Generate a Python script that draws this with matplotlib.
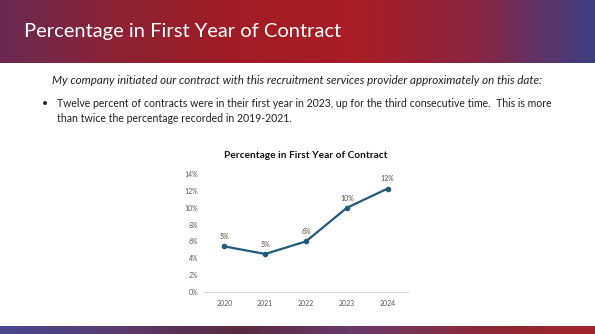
import numpy as np
import matplotlib
matplotlib.use("Agg")
import matplotlib.pyplot as plt
from matplotlib.colors import LinearSegmentedColormap

years = ["2020", "2021", "2022", "2023", "2024"]
pct = [5.4, 4.5, 6.0, 10.0, 12.3]
point_labels = ["5%", "5%", "6%", "10%", "12%"]
y_ticks = [0, 2, 4, 6, 8, 10, 12, 14]

W, H = 595, 334
plt.rcParams['font.family'] = ['Lato', 'DejaVu Sans']

fig = plt.figure(figsize=(W / 100, H / 100), dpi=100)
fig.patch.set_facecolor("white")

# header band
head = fig.add_axes([0, 1 - 63 / H, 1, 63 / H])
head_cmap = LinearSegmentedColormap.from_list(
    "head", ["#6a2a52", "#8e2234", "#a11c24", "#a81d26", "#8a2440", "#3d3f82"])
grad = np.linspace(0, 1, 300).reshape(1, -1)
head.imshow(grad, aspect="auto", cmap=head_cmap, extent=[0, 1, 0, 1])
head.set_axis_off()
head.text(24 / W, 0.5, "Percentage in First Year of Contract", color="white",
          fontsize=14.5, va="center", ha="left", transform=head.transAxes)

# bottom band
foot = fig.add_axes([0, 0, 1, 8 / H])
foot_cmap = LinearSegmentedColormap.from_list(
    "foot", ["#4a4a92", "#5a3a6e", "#5a2a40", "#6a3a6a", "#8a2a3a", "#a3222a"])
foot.imshow(grad, aspect="auto", cmap=foot_cmap, extent=[0, 1, 0, 1])
foot.set_axis_off()

# texts
fig.text(52 / W, 1 - 80 / H,
         "My company initiated our contract with this recruitment services provider approximately on this date:",
         fontsize=8.4, style="italic", color="#222222", va="center")
fig.text(42 / W, 1 - 103 / H, "\u2022", fontsize=7.5, color="#222222", va="center")
fig.text(57 / W, 1 - 103 / H,
         "Twelve percent of contracts were in their first year in 2023, up for the third consecutive time.  This is more",
         fontsize=7.6, color="#222222", va="center")
fig.text(57 / W, 1 - 118 / H, "than twice the percentage recorded in 2019-2021.",
         fontsize=7.6, color="#222222", va="center")

# chart
ax = fig.add_axes([204 / W, 42.3 / H, 204 / W, 117.4 / H])
x = np.arange(len(years))
ax.plot(x, pct, color="#1f5a7a", lw=1.6, marker="o", ms=3)
for xi, yi, lab in zip(x, pct, point_labels):
    ax.annotate(lab, (xi, yi), xytext=(0, 4.5), textcoords="offset points",
                ha="center", va="bottom", fontsize=5, color="#5a4a3a")
ax.set_xlim(-0.5, len(years) - 0.5)
ax.set_ylim(0, 14)
ax.set_xticks(x)
ax.set_xticklabels(years)
ax.set_yticks(y_ticks)
ax.set_yticklabels([f"{v}%" for v in y_ticks])
ax.tick_params(axis="both", length=0, labelsize=5, colors="#595959")
ax.tick_params(axis="y", pad=4)
ax.tick_params(axis="x", pad=6)
for s in ["top", "right", "left"]:
    ax.spines[s].set_visible(False)
ax.spines["bottom"].set_color("#d9d9d9")
ax.spines["bottom"].set_linewidth(0.8)
ax.set_title("Percentage in First Year of Contract", fontsize=7.3, fontweight="bold",
             color="#111111", pad=12)

fig.savefig("out.png", dpi=100)
